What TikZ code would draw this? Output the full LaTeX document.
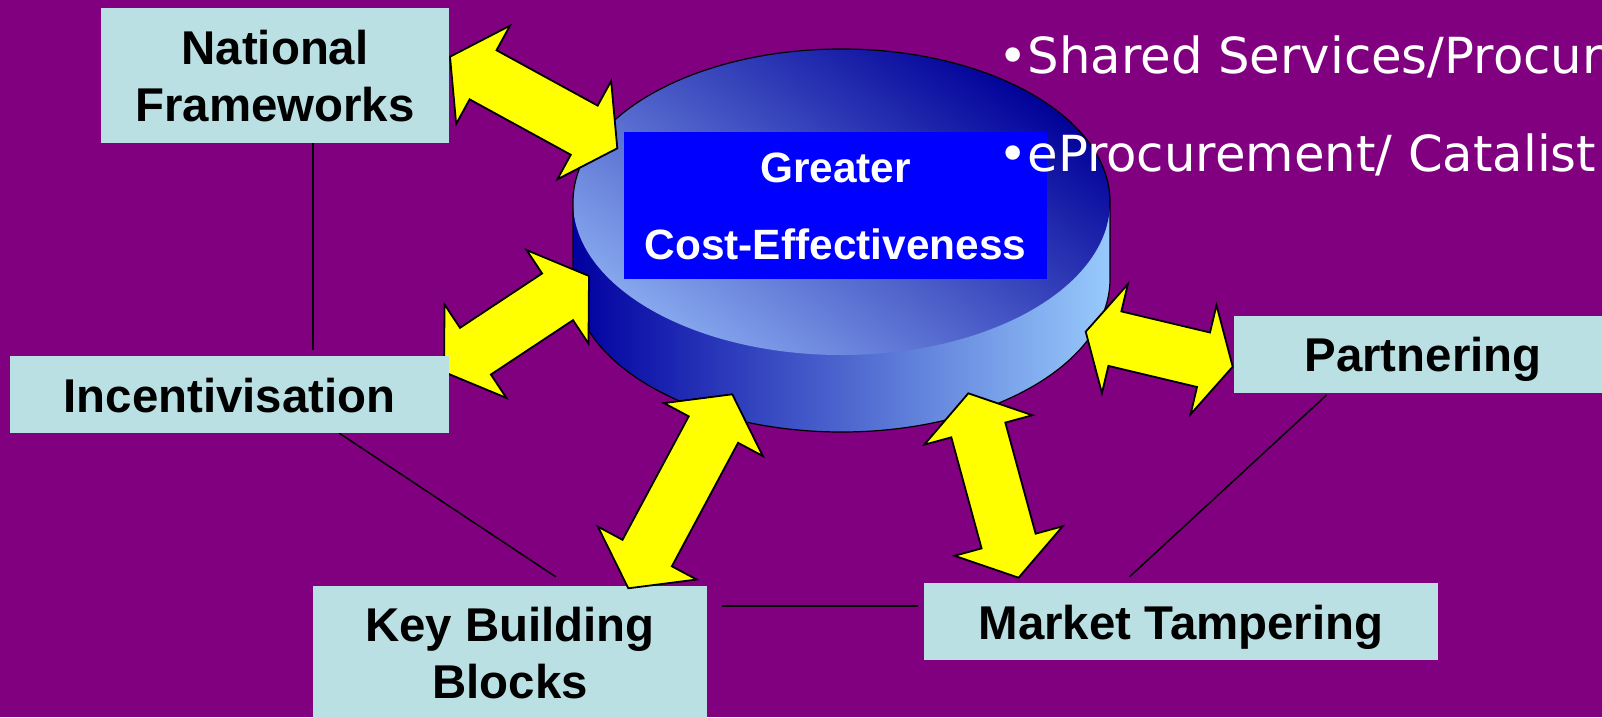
\documentclass[tikz,border=0pt]{standalone}
\usepackage{fontspec}
\setmainfont{Liberation Sans}
\newfontfamily\sidefont{DejaVu Sans}
\usetikzlibrary{calc}
\definecolor{bgpurple}{RGB}{128,0,128}
\definecolor{boxcyan}{RGB}{186,224,227}
\definecolor{arrowyellow}{RGB}{255,255,0}
\definecolor{rectblue}{RGB}{0,0,255}
\definecolor{sideL}{RGB}{0,0,160}
\definecolor{sideR}{RGB}{152,202,252}
\definecolor{topDark}{RGB}{0,0,152}
\definecolor{topMid}{RGB}{40,58,192}
\definecolor{topLight}{RGB}{135,168,238}
\newcommand{\dblarrow}[5]{%
  \path ($(#1)!#3!(#2)$) coordinate (hA) ($(#2)!#3!(#1)$) coordinate (hB);
  \draw[yarrow] (#1) -- ($(hA)!#4!90:(#2)$) -- ($(hA)!#5!90:(#2)$)
    -- ($(hB)!#5!-90:(#1)$) -- ($(hB)!#4!-90:(#1)$) -- (#2)
    -- ($(hB)!#4!90:(#1)$) -- ($(hB)!#5!90:(#1)$)
    -- ($(hA)!#5!-90:(#2)$) -- ($(hA)!#4!-90:(#2)$) -- cycle;}
\begin{document}
\begin{tikzpicture}[x=1pt,y=-1pt,
  box/.style={fill=boxcyan, inner sep=0pt, align=center, text=black,
    font=\fontsize{47.4}{57.7}\selectfont\bfseries, text height=44pt, text depth=9pt},
  box2/.style={box, text height=101.7pt},
  link/.style={draw=black, line width=1.5pt},
  yarrow/.style={fill=arrowyellow, draw=black, line width=1.8pt, line join=miter},
  sidetext/.style={text=white, inner sep=0pt, anchor=base west,
    font=\sidefont\fontsize{49.7}{58}\selectfont}]
\useasboundingbox (0,0) rectangle (1602,717);
\clip (0,0) rectangle (1602,717);
\fill[bgpurple] (0,0) rectangle (1602,717);

% cylinder
\shade[left color=sideL, right color=sideR]
  (573,202) -- (573,279) arc[start angle=180, end angle=0, x radius=268.5, y radius=153]
  -- (1110,202) -- cycle;
\shade[top color=topDark, middle color=topMid, bottom color=topLight, shading angle=-35]
  (841.5,202) ellipse [x radius=268.5, y radius=153];
\draw[black, line width=1.2pt]
  (573,202) arc[start angle=180, end angle=360, x radius=268.5, y radius=153]
  -- (1110,279) arc[start angle=0, end angle=180, x radius=268.5, y radius=153] -- cycle;

\node[fill=rectblue, inner sep=0pt, minimum width=423pt, minimum height=147pt,
  align=center, text=white, font=\fontsize{42.4}{76.6}\selectfont\bfseries,
  text height=116.6pt, text depth=9pt] (core) at (835.5,205.5) {Greater\\Cost-Effectiveness};

% boxes
\node[box2, minimum width=348pt, minimum height=135pt] (nat) at (275,75.5) {National\\Frameworks};
\node[box, minimum width=378pt, minimum height=76.5pt] (par) at (1423,354.25) {Partnering};
\node[box, minimum width=514pt, minimum height=77pt] (mkt) at (1181,621.5) {Market Tampering};
\node[box2, minimum width=394pt, minimum height=133pt] (kbb) at (510,652.5) {Key Building\\Blocks};

% connecting lines
\coordinate (l1a) at (313,143); \coordinate (l1b) at (313,350);
\coordinate (l2a) at (339,433); \coordinate (l2b) at (556,577);
\coordinate (l3a) at (722,606); \coordinate (l3b) at (918,606);
\coordinate (l4a) at (1326.6,395); \coordinate (l4b) at (1129.6,576.7);
\draw[link] (l1a) -- (l1b);
\draw[link] (l2a) -- (l2b);
\draw[link] (l3a) -- (l3b);
\draw[link] (l4a) -- (l4b);

% arrows
\coordinate (a1A) at (450,56.7);   \coordinate (a1B) at (617.3,148.3);
\coordinate (a2A) at (444,372);    \coordinate (a2B) at (589,276);
\coordinate (a3A) at (628.3,588.3); \coordinate (a3B) at (732.3,394.3);
\coordinate (a4A) at (1018.6,577.7); \coordinate (a4B) at (968.3,393.3);
\coordinate (a5A) at (1085.7,331.7); \coordinate (a5B) at (1232.7,366.7);
\dblarrow{a1A}{a1B}{37.7pt}{56pt}{28pt}
\dblarrow{a2A}{a2B}{37.7pt}{56pt}{28pt}
\dblarrow{a3A}{a3B}{40pt}{56pt}{28pt}
\dblarrow{a4A}{a4B}{38pt}{56pt}{28pt}
\dblarrow{a5A}{a5B}{30pt}{56pt}{28pt}

\node[box, minimum width=439pt, minimum height=77pt] (inc) at (229.5,394.5) {Incentivisation};

% side text
\node[sidetext] (s1) at (998,73.3) {•Shared Services/Procur};
\node[sidetext] (s2) at (998,171.7) {•eProcurement/ Catalist};
\end{tikzpicture}
\end{document}
